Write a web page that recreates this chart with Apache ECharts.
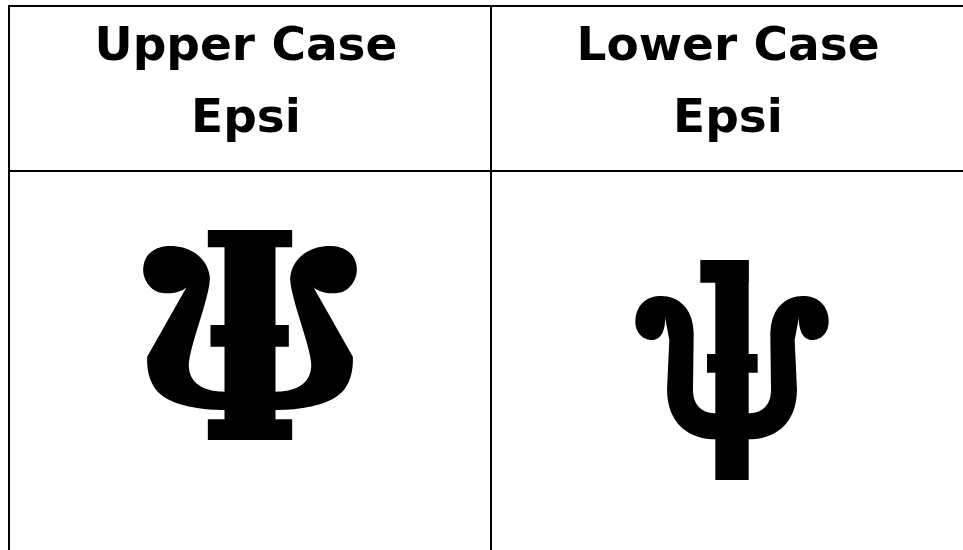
<!DOCTYPE html>
<html><head><meta charset="utf-8">
<script src="https://cdn.jsdelivr.net/npm/echarts@6/dist/echarts.min.js"></script>
<style>html,body{margin:0;padding:0;background:#fff}#c{width:963px;height:550px}</style>
</head><body><div id="c"></div>
<script>
// ---- data ----
const columns = ['Upper Case Epsi', 'Lower Case Epsi'];
const headerLine1 = ['Upper Case', 'Lower Case'];
const headerLine2 = ['Epsi', 'Epsi'];
const glyphKinds = ['upper', 'lower'];

// ---- glyph designs (design units = 1/3 px, relative to anchor) ----
function rect(x0, y0, x1, y1) { return [['M', x0, y0], ['L', x0, y1], ['L', x1, y1], ['L', x1, y0], ['Z']]; }
const GLYPH_DESIGN = {
  upper: {
    ax: 388.5, ay: 60, top: 224,
    rects: [rect(262, 60, 515, 112), rect(312, 60, 465, 690), rect(262, 628, 515, 690), rect(270, 345, 505, 410)],
    arm: [['M', 330, 600], ['L', 312, 600], ['C', 240, 600, 160, 587, 120, 553], ['C', 90, 528, 78, 485, 80, 440],
          ['L', 198, 232], ['C', 178, 250, 135, 255, 110, 245], ['C', 85, 235, 68, 205, 68, 180],
          ['C', 68, 135, 100, 108, 150, 108], ['C', 215, 108, 265, 150, 268, 205],
          ['C', 268, 260, 210, 400, 205, 460], ['C', 202, 520, 250, 545, 312, 545], ['L', 330, 545], ['Z']]
  },
  lower: {
    ax: 425, ay: 60, top: 254,
    rects: [rect(330, 60, 475, 128), rect(375, 60, 475, 720), rect(350, 342, 502, 398)],
    arm: [['M', 380, 598], ['L', 375, 598], ['C', 305, 598, 232, 560, 230, 450], ['L', 237, 300], ['L', 224, 232],
          ['C', 226, 270, 212, 300, 185, 300], ['C', 155, 300, 135, 275, 135, 245],
          ['C', 135, 200, 165, 170, 205, 168], ['C', 265, 166, 310, 205, 310, 285],
          ['L', 308, 450], ['C', 308, 495, 335, 520, 375, 520], ['L', 380, 520], ['Z']]
  }
};
function flatten(cmds, ax, ay, mirror) {
  const pts = [];
  let cx = 0, cy = 0;
  const tr = (x, y) => { let lx = (x - ax) / 3; if (mirror) lx = -lx; return [lx, (y - ay) / 3]; };
  cmds.forEach(c => {
    if (c[0] === 'M' || c[0] === 'L') { cx = c[1]; cy = c[2]; pts.push(tr(cx, cy)); }
    else if (c[0] === 'C') {
      const [, x1, y1, x2, y2, x3, y3] = c;
      for (let k = 1; k <= 20; k++) {
        const t = k / 20, u = 1 - t;
        const x = u*u*u*cx + 3*u*u*t*x1 + 3*u*t*t*x2 + t*t*t*x3;
        const y = u*u*u*cy + 3*u*u*t*y1 + 3*u*t*t*y2 + t*t*t*y3;
        pts.push(tr(x, y));
      }
      cx = x3; cy = y3;
    }
  });
  return pts;
}
function glyphParts(kind) {
  const d = GLYPH_DESIGN[kind];
  const parts = d.rects.map(r => flatten(r, d.ax, d.ay, false));
  parts.push(flatten(d.arm, d.ax, d.ay, false));
  parts.push(flatten(d.arm, d.ax, d.ay, true));
  return parts;
}

const chart = echarts.init(document.getElementById('c'), null, { renderer: 'canvas' });
chart.setOption({
  animation: false,
  backgroundColor: '#fff',
  grid: { left: 9, top: 6, width: 964, height: 560, outerBoundsMode: 'none', containLabel: false,
          show: true, borderColor: '#000', borderWidth: 2, backgroundColor: 'transparent' },
  xAxis: {
    type: 'category', data: columns, boundaryGap: true,
    axisLine: { show: false }, axisTick: { show: false }, axisLabel: { show: false },
    splitLine: { show: true, lineStyle: { color: '#000', width: 2 } }
  },
  yAxis: { type: 'value', min: 0, max: 560, inverse: true, show: false, splitLine: { show: false } },
  series: [
    {
      type: 'custom', name: 'header', silent: true, clip: false,
      data: columns.map((c, i) => [i, 78]),
      renderItem(params, api) {
        const i = api.value(0);
        const p = api.coord([i, api.value(1)]);
        return {
          type: 'text', x: p[0] - 4, y: p[1],
          style: {
            text: headerLine1[i] + '\n' + headerLine2[i], fill: '#000',
            fontFamily: 'DejaVu Sans', fontWeight: 'bold', fontSize: 47, lineHeight: 72,
            align: 'center', verticalAlign: 'middle'
          }
        };
      },
      markLine: {
        silent: true, symbol: 'none', label: { show: false },
        lineStyle: { color: '#000', width: 2, type: 'solid' },
        data: [{ yAxis: 165 }]
      }
    },
    {
      type: 'custom', name: 'glyph', silent: true, clip: false,
      data: glyphKinds.map((g, i) => [i, GLYPH_DESIGN[g].top]),
      renderItem(params, api) {
        const i = api.value(0);
        const p = api.coord([i, api.value(1)]);
        const parts = glyphParts(glyphKinds[i]);
        return {
          type: 'group',
          children: parts.map(pts => ({
            type: 'polygon',
            shape: { points: pts.map(q => [p[0] + q[0], p[1] + q[1]]) },
            style: { fill: '#000', stroke: null }
          }))
        };
      }
    }
  ]
});
</script>
</body></html>
